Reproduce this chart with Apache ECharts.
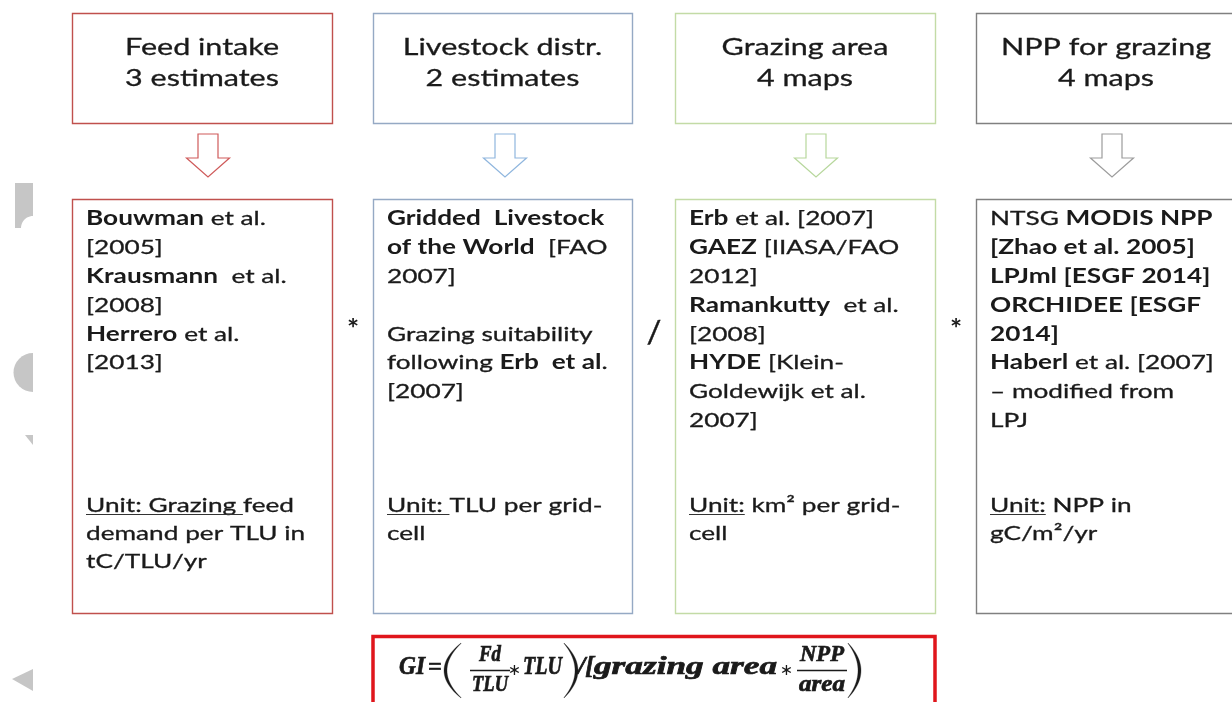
<!DOCTYPE html>
<html><head><meta charset="utf-8">
<script src="https://cdn.jsdelivr.net/npm/echarts@6/dist/echarts.min.js"></script>
<style>html,body{margin:0;padding:0;background:#fff}#c{width:1232px;height:702px}</style>
</head><body><div id="c"></div>
<script>
// ---------- content ----------
const headTitles = ['Feed intake', 'Livestock distr.', 'Grazing area', 'NPP for grazing'];
const headCounts = ['3 estimates', '2 estimates', '4 maps', '4 maps'];
const sourceLines = [
  ['**Bouwman** et al.', '[2005]', '**Krausmann**  et al.', '[2008]', '**Herrero** et al.', '[2013]'],
  ['**Gridded  Livestock**', '**of the World**  [FAO', '2007]', '', 'Grazing suitability', 'following **Erb  et al**.', '[2007]'],
  ['**Erb** et al. [2007]', '**GAEZ** [IIASA/FAO', '2012]', '**Ramankutty**  et al.', '[2008]', '**HYDE** [Klein-', 'Goldewijk et al.', '2007]'],
  ['NTSG **MODIS NPP**', '**[Zhao et al. 2005]**', '**LPJml [ESGF 2014]**', '**ORCHIDEE [ESGF**', '**2014]**', '**Haberl** et al. [2007]', '\u2013 modified from', 'LPJ']
];
const unitLines = [
  ['__Unit: Grazing __feed', 'demand per TLU in', 'tC/TLU/yr'],
  ['__Unit: __TLU per grid-', 'cell'],
  ['__Unit:__ km\u00b2 per grid-', 'cell'],
  ['__Unit:__ NPP in', 'gC/m\u00b2/yr']
];
const operators = ['*', '/', '*'];
// formula pieces (a|b = fraction)
const formulaPieces = ['GI', '=', '(', 'Fd|TLU', '\u2217', 'TLU', ')', '/[', 'grazing area', '\u2217', 'NPP|area', ')'];

// ---------- layout / style ----------
const boxX = [72, 373, 675, 976];
const boxW = [260, 259, 260, 275];
const arrowCX = [208, 505, 816, 1112];
const borderCol = ['#c0504d', '#95a9c4', '#c3dba6', '#808080'];
const arrowCol = ['#cf5a5a', '#8fb6de', '#b7d79c', '#9c9c9c'];
const TXT = '#1a1a1a';
const BODY = 'Lato';
const bodyPx = 20, headPx = 24;

const ctx = document.createElement('canvas').getContext('2d');
function font(w, px, fam, st) { return (st || 'normal') + ' ' + w + ' ' + px + 'px ' + fam; }
function meas(s, f) { ctx.font = f; return ctx.measureText(s).width; }

const bodyScale = 208 / meas('Unit: Grazing feed', font('normal', bodyPx, BODY));
const headScale = 154 / meas('Feed intake', font('normal', headPx, BODY));

function parse(line) {
  const segs = []; let bold = false, und = false, cur = '';
  for (let i = 0; i < line.length; i++) {
    if (line.startsWith('**', i)) { if (cur) segs.push({t: cur, b: bold, u: und}); cur = ''; bold = !bold; i++; continue; }
    if (line.startsWith('__', i)) { if (cur) segs.push({t: cur, b: bold, u: und}); cur = ''; und = !und; i++; continue; }
    cur += line[i];
  }
  if (cur) segs.push({t: cur, b: bold, u: und});
  return segs;
}

const g = [];
function textEl(s, x, y, f, sc, align, emb) {
  const st = {text: s, font: f, fill: TXT, textAlign: align || 'left', align: align || 'left',
              textVerticalAlign: 'middle', verticalAlign: 'middle'};
  if (emb) { st.stroke = TXT; st.lineWidth = emb; }
  g.push({type: 'text', x: x, y: y, scaleX: sc, z: 10, style: st});
}
function lineEl(x1, y1, x2, y2, col, w) {
  g.push({type: 'line', shape: {x1: x1, y1: y1, x2: x2, y2: y2}, style: {stroke: col, lineWidth: w}, z: 10});
}
function richLine(line, x, y) {
  let cx = x;
  parse(line).forEach(sg => {
    const f = font(sg.b ? 'bold' : 'normal', bodyPx, BODY);
    const w = meas(sg.t, f) * bodyScale;
    textEl(sg.t, cx, y, f, bodyScale, 'left', sg.b ? 0 : 0.3);
    if (sg.u) lineEl(cx, y + 8.5, cx + w, y + 8.5, '#333', 1.2);
    cx += w;
  });
}

// boxes
for (let i = 0; i < 4; i++) {
  g.push({type: 'rect', shape: {x: boxX[i] + 0.5, y: 13.5, width: boxW[i], height: 110},
          style: {fill: '#fff', stroke: borderCol[i], lineWidth: 1.4}});
  g.push({type: 'rect', shape: {x: boxX[i] + 0.5, y: 199.5, width: boxW[i], height: 414},
          style: {fill: '#fff', stroke: borderCol[i], lineWidth: 1.4}});
  const cx = Math.min(boxX[i] + boxW[i] / 2, boxX[i] + 130);
  textEl(headTitles[i], cx, 47, font('normal', headPx, BODY), headScale, 'center', 0.3);
  textEl(headCounts[i], cx, 78, font('normal', headPx, BODY), headScale, 'center', 0.3);
  const a = arrowCX[i];
  g.push({type: 'polygon', shape: {points: [[a - 10, 134], [a + 10, 134], [a + 10, 158], [a + 21.5, 158], [a, 177], [a - 21.5, 158], [a - 10, 158]]},
          style: {fill: '#fff', stroke: arrowCol[i], lineWidth: 1.2}});
  sourceLines[i].forEach((ln, k) => { if (ln) richLine(ln, boxX[i] + 14, 219 + k * 28.8); });
  unitLines[i].forEach((ln, k) => richLine(ln, boxX[i] + 14, 506 + k * 28));
}
// operators
for (let i = 0; i < 3; i++) {
  const x = (boxX[i] + boxW[i] + boxX[i + 1]) / 2 + 0.5;
  if (operators[i] === '/') textEl(operators[i], x, 333, font('normal', 30, BODY), 1.1, 'center', 0.4);
  else textEl(operators[i], x, 330, font('bold', 26, BODY), 1.1, 'center');
}

// formula box + formula
g.push({type: 'rect', shape: {x: 373, y: 636.5, width: 562, height: 80},
        style: {fill: '#fff', stroke: '#e0161c', lineWidth: 3.5}});
const SER = '"Liberation Serif"';
const MF = font('bold', 25, SER, 'italic');
const FF = font('bold', 23, SER, 'italic');
const OPF = font('normal', 16, '"DejaVu Sans"');
const EQF = font('bold', 26, SER);
// slots of the equation layout (left / right edges)
const slotL = [399, 428, 444, 470, 510, 523, 564, 578, 594, 781, 797, 848];
const slotR = [425, 442, 461, 510, 519, 562, 578, 594, 777, 792, 847, 861];
const FY = 668;
function paren(l, r, open) {
  const top = 643, bot = 698, n = 24, pts = [];
  const tip = open ? r : l, far = open ? l : r, th = 3;
  const cOut = 2 * far - tip, cIn = 2 * (far + (open ? th : -th)) - tip;
  for (let k = 0; k <= n; k++) { const t = k / n; pts.push([(1 - t) * (1 - t) * tip + 2 * t * (1 - t) * cOut + t * t * tip, (1 - t) * (1 - t) * top + 2 * t * (1 - t) * ((top + bot) / 2) + t * t * bot]); }
  for (let k = n; k >= 0; k--) { const t = k / n; pts.push([(1 - t) * (1 - t) * tip + 2 * t * (1 - t) * cIn + t * t * tip, (1 - t) * (1 - t) * (top + 0.5) + 2 * t * (1 - t) * ((top + bot) / 2) + t * t * (bot - 0.5)]); }
  g.push({type: 'polygon', shape: {points: pts}, style: {fill: TXT, stroke: TXT, lineWidth: 0.3}, z: 10});
}
formulaPieces.forEach((p, i) => {
  const l = slotL[i], r = slotR[i], w = r - l;
  if (p === '(' || p === ')') { paren(l, r, p === '('); return; }
  if (p.indexOf('|') >= 0) {
    const [num, den] = p.split('|');
    const wn = num === 'Fd' ? 22 : w - 6, wd = w - 4;
    textEl(num, (l + r) / 2, 655, FF, wn / meas(num, FF), 'center', 0.7);
    lineEl(l, 670.5, r, 670.5, TXT, 1.3);
    textEl(den, (l + r) / 2, 685, FF, wd / meas(den, FF), 'center', 0.7);
    return;
  }
  if (p === '\u2217') { textEl(p, (l + r) / 2, 671, OPF, 1, 'center'); return; }
  if (p === '=') { textEl(p, l, FY, EQF, w / meas(p, EQF), 'left', 0.5); return; }
  textEl(p, l, FY, MF, w / meas(p, MF), 'left', 0.7);
});

// left-edge grey fragments
const GR = '#c6c6c6';
const cut = [[15, 183], [33, 183], [33, 216]];
for (let k = 1; k < 12; k++) { const an = -Math.PI / 2 - k / 12 * Math.PI / 2; cut.push([33 + 12 * Math.cos(an), 228 + 12 * Math.sin(an)]); }
cut.push([21, 228], [15, 228]);
g.push({type: 'polygon', shape: {points: cut}, style: {fill: GR}});
g.push({type: 'sector', shape: {cx: 33, cy: 372.5, r: 19.5, r0: 0, startAngle: Math.PI / 2, endAngle: Math.PI * 1.5, clockwise: true}, style: {fill: GR}});
g.push({type: 'polygon', shape: {points: [[25, 435], [33, 435], [33, 445]]}, style: {fill: GR}});
g.push({type: 'polygon', shape: {points: [[12, 679], [33, 669], [33, 691]]}, style: {fill: GR}});

const chart = echarts.init(document.getElementById('c'), null, {renderer: 'canvas'});
chart.setOption({backgroundColor: '#fff', animation: false, graphic: {elements: g}});
</script></body></html>
